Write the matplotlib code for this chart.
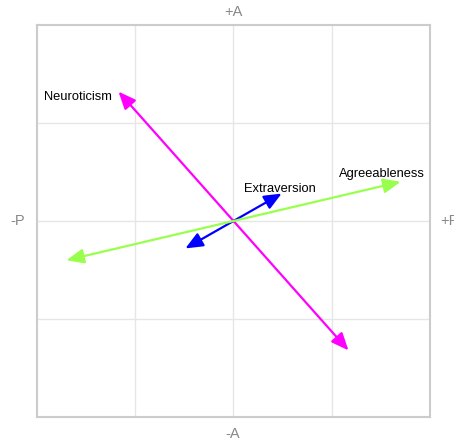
import matplotlib
matplotlib.use("Agg")
from matplotlib import pyplot as plt

# trait vectors (drawn from -v to +v)
traits = ["Neuroticism", "Extraversion", "Agreeableness"]
p_load = [-0.585, 0.245, 0.85]
a_load = [0.66, 0.14, 0.20]
colors = ["#ff00ff", "#0000ff", "#99ff4d"]

# label offsets in points (dx, dy, ha)
label_pos = [(-5, -4, "right"), (-1.4, 3.2, "center"), (-13.7, 5.6, "center")]

plt.rcParams["font.family"] = ["Liberation Sans", "DejaVu Sans"]

fig = plt.figure(figsize=(4.54, 4.44), dpi=100)
ax = fig.add_axes([37 / 454, 1 - 417 / 444, 393 / 454, 392 / 444])
ax.set_xlim(-1, 1)
ax.set_ylim(-1, 1)

for v in [-0.5, 0, 0.5]:
    ax.axvline(v, color="#e6e6e6", lw=1, zorder=0)
    ax.axhline(v, color="#e6e6e6", lw=1, zorder=0)

for name, x, y, c, (dx, dy, ha) in zip(traits, p_load, a_load, colors, label_pos):
    ax.annotate("", xy=(x, y), xytext=(-x, -y),
                arrowprops=dict(arrowstyle="<|-|>,head_length=0.75,head_width=0.32",
                                color=c, lw=1.6, shrinkA=0, shrinkB=0,
                                mutation_scale=14))
    ax.annotate(name, xy=(x, y), xytext=(dx, dy), textcoords="offset points",
                ha=ha, va="center", fontsize=9.3, color="black")

ax.set_xticks([])
ax.set_yticks([])
for s in ax.spines.values():
    s.set_color("#cccccc")
    s.set_linewidth(1.5)

gray = "#888888"
fig.text(233 / 454, 1 - 12 / 444, "+A", ha="center", va="center", fontsize=10.5, color=gray)
fig.text(233 / 454, 1 - 434 / 444, "-A", ha="center", va="center", fontsize=10.5, color=gray)
fig.text(18 / 454, 1 - 221 / 444, "-P", ha="center", va="center", fontsize=10.5, color=gray)
fig.text(440 / 454, 1 - 221 / 444, "+P", ha="left", va="center", fontsize=10.5, color=gray)

fig.savefig("out.png", dpi=100)
